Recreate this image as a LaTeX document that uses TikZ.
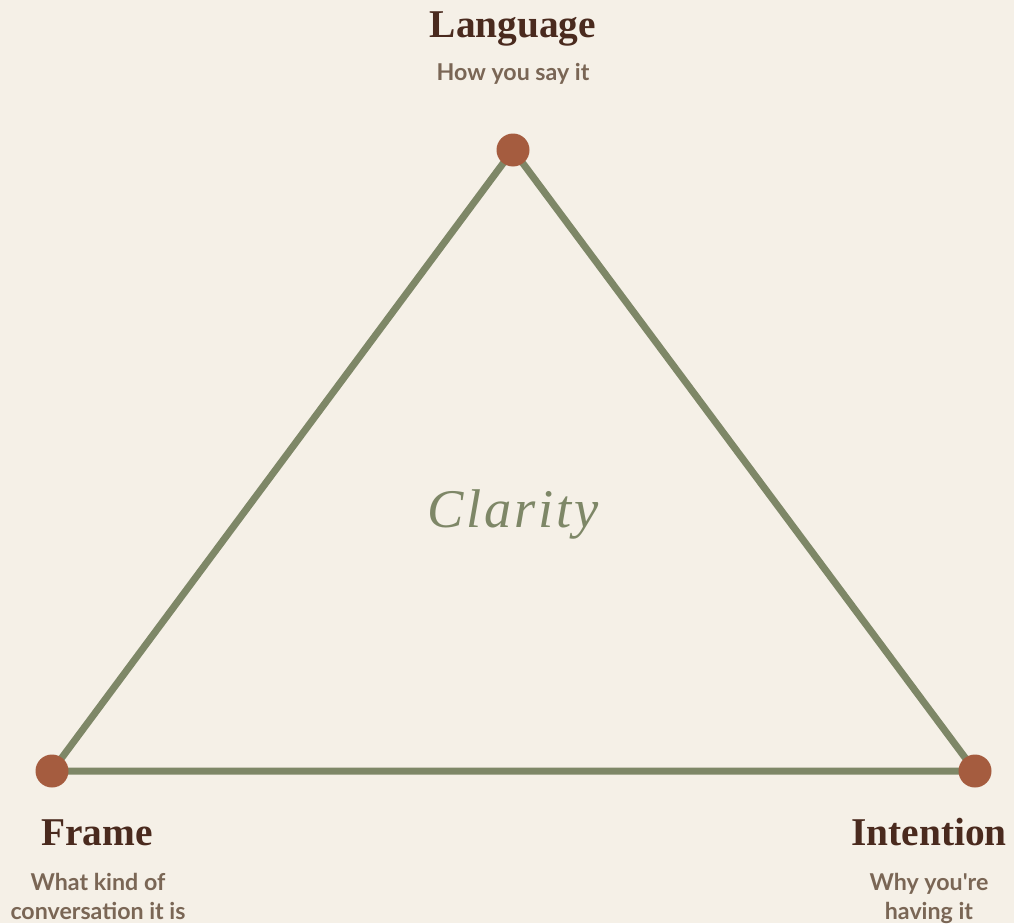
\documentclass[tikz,border=0pt]{standalone}
\usepackage{fontspec}
\setmainfont{Liberation Serif}
\newfontfamily\labelfont{Lato}
\newfontfamily\centrefont[LetterSpace=5]{Liberation Serif}
\definecolor{paper}{HTML}{F5F0E7}
\definecolor{sage}{HTML}{7E8767}
\definecolor{rust}{HTML}{A55C3F}
\definecolor{bark}{HTML}{4A2A1E}
\definecolor{taupe}{HTML}{7A6655}
\tikzset{
  vertex/.style={circle,fill=rust,inner sep=0pt,minimum size=0.66cm},
  title/.style={anchor=base,text=bark,font=\fontsize{22.4}{26}\selectfont\bfseries},
  sub/.style={anchor=base,text=taupe,align=center,font=\labelfont\fontsize{13.2}{16.4}\selectfont\bfseries}
}
\begin{document}
\begin{tikzpicture}[x=0.02cm,y=-0.02cm]
\fill[paper] (0,0) rectangle (1014,923);
\useasboundingbox (0,0) rectangle (1014,923);
% corners
\coordinate (lang) at (513,150);
\coordinate (frame) at (52,771);
\coordinate (intent) at (975,771);
\draw[sage,line width=0.14cm,line join=round] (lang) -- (frame) -- (intent) -- cycle;
\node[vertex] (langdot) at (lang) {};
\node[vertex] (framedot) at (frame) {};
\node[vertex] (intentdot) at (intent) {};
% labels
\node[title] (langtitle) at (513,37) {Language};
\node[sub] (langsub) at (513,80) {How you say it};
\node[title] (frametitle) at (97,845) {Frame};
\node[sub,anchor=north,inner sep=0pt] (framesub) at (98,873) {What kind of\\conversation it is};
\node[title] (intenttitle) at (929,845) {Intention};
\node[sub,anchor=north,inner sep=0pt] (intentsub) at (929,873) {Why you're\\having it};
\node[anchor=base,text=sage,font=\centrefont\fontsize{31}{36}\selectfont\itshape] (clarity) at (513,527) {Clarity};
\end{tikzpicture}
\end{document}
